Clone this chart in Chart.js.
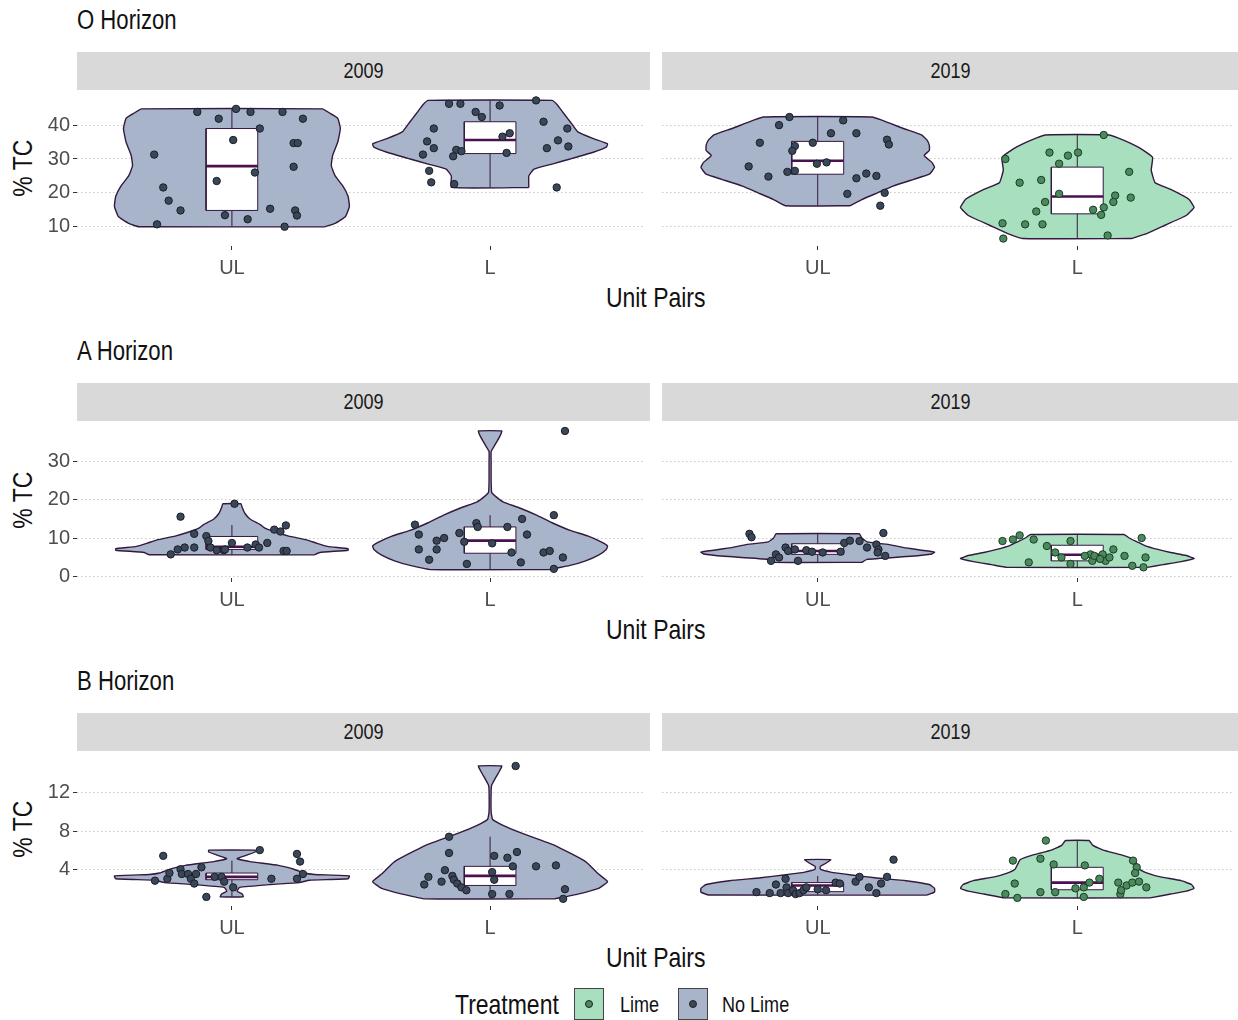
<!DOCTYPE html>
<html>
<head>
<meta charset="utf-8">
<script src="https://cdn.jsdelivr.net/npm/chart.js@4.4.1/dist/chart.umd.min.js"></script>
<style>
  body { margin: 0; background: #fff; }
  #page { position: relative; width: 1238px; height: 1020px; overflow: hidden; background: #fff;
          font-family: "Liberation Sans", Arial, sans-serif; color: #111; }
  .abs { position: absolute; white-space: nowrap; }
  .abs > span.n { display: inline-block; transform: scaleX(0.82); transform-origin: left center; }
  .c > span.n { transform-origin: center center; }
  .rowTitle { font-size: 27px; line-height: 30px; left: 77px; }
  .strip { background: #d9d9d9; height: 38px; display: flex; align-items: center; justify-content: center;
           font-size: 22px; color: #1a1a1a; }
  .xTitle { font-size: 28px; line-height: 30px; width: 300px; left: 506px; text-align: center; }
  .yTitle { font-size: 28px; line-height: 30px; width: 120px; text-align: center; transform: rotate(-90deg); }
  .legTitle { font-size: 28px; line-height: 30px; }
  .legText { font-size: 22px; line-height: 24px; }
  .key { width: 30px; height: 32px; border: 1px solid #444; box-sizing: border-box; display: flex;
         align-items: center; justify-content: center; }
  .dot { width: 6px; height: 6px; border-radius: 50%; border: 1px solid #222; }
  canvas { position: absolute; }
</style>
</head>
<body>
<div id="page"></div>
<script>
// ---- labels ----
const horizons = ['O Horizon', 'A Horizon', 'B Horizon'];
const years = ['2009', '2019'];
const categories = ['UL', 'L'];
const treatment2009 = ['No Lime', 'No Lime'];
const treatment2019 = ['No Lime', 'Lime'];
const treatments = ['Lime', 'No Lime'];

// ---- y axes (% TC) ----
const yTicksO = [10, 20, 30, 40];
const yTicksA = [0, 10, 20, 30];
const yTicksB = [4, 8, 12];
const yLimitsO = [4.3, 48.9];
const yLimitsA = [-0.5, 39.4];
const yLimitsB = [0.15, 15.85];

// ---- O horizon, 2009 ----
const violinO09UL_y = [10, 11, 13, 16, 19, 22, 25, 28, 31, 35, 39, 42, 43.5, 44.8];
const violinO09UL_w = [0.36, 0.40, 0.44, 0.455, 0.45, 0.43, 0.40, 0.385, 0.39, 0.41, 0.42, 0.41, 0.38, 0.35];
const boxO09UL = [10, 14.8, 27.9, 39.0, 44.8];
const ptsO09UL_dx = [-0.134, -0.051, 0.016, 0.072, 0.196, 0.275, 0.108, 0.005, 0.239, 0.255, -0.301, 0.239, 0.089, -0.059, -0.266, -0.245, -0.199, 0.148, 0.245, 0.252, -0.027, 0.061, -0.29, 0.204];
const ptsO09UL_y = [43.9, 41.9, 44.8, 43.9, 43.9, 41.9, 39.0, 35.6, 34.7, 34.7, 31.3, 27.7, 26.0, 23.5, 21.6, 17.7, 14.8, 15.3, 14.8, 13.3, 13.4, 12.2, 10.7, 10.0];

const violinO09L_y = [21.6, 25, 27, 28.5, 30, 32, 33.5, 34.5, 36, 38, 40, 42, 44, 46, 47.3];
const violinO09L_w = [0.15, 0.15, 0.17, 0.24, 0.31, 0.40, 0.45, 0.455, 0.40, 0.34, 0.32, 0.30, 0.28, 0.26, 0.24];
const boxO09L = [21.6, 31.6, 35.6, 41.0, 47.3];
const ptsO09L_dx = [-0.159, -0.115, 0.037, 0.178, -0.056, -0.032, 0.207, -0.218, 0.299, -0.244, 0.048, 0.076, 0.263, -0.218, -0.131, -0.111, 0.22, 0.303, -0.26, -0.143, 0.064, -0.236, -0.228, -0.139, 0.258];
const ptsO09L_y = [46.3, 46.3, 45.8, 47.3, 43.9, 42.4, 41.0, 39.0, 39.0, 35.2, 36.6, 37.6, 35.5, 33.2, 32.7, 32.3, 33.2, 33.7, 31.3, 30.8, 31.8, 26.5, 23.1, 22.6, 21.6];

// ---- O horizon, 2019 ----
const violinO19UL_y = [16.2, 18, 20, 22, 24, 25.5, 27.5, 29, 31, 32.5, 34, 35.7, 37.1, 39, 40.5, 42.4];
const violinO19UL_w = [0.125, 0.17, 0.23, 0.29, 0.37, 0.43, 0.45, 0.44, 0.41, 0.43, 0.43, 0.42, 0.40, 0.33, 0.28, 0.21];
const boxO19UL = [16.2, 25.5, 29.5, 35.2, 42.4];
const ptsO19UL_dx = [-0.109, -0.149, 0.098, 0.051, 0.149, 0.267, 0.274, -0.223, -0.088, -0.019, -0.098, -0.266, -0.19, -0.117, -0.088, -0.003, 0.034, 0.149, 0.187, 0.226, 0.114, 0.258, 0.241];
const ptsO19UL_y = [42.4, 40.0, 41.4, 37.6, 37.6, 35.7, 34.3, 34.8, 33.8, 34.8, 32.4, 27.8, 24.8, 26.2, 26.5, 28.6, 29.0, 24.3, 25.7, 25.0, 19.7, 20.0, 16.2];

const violinO19L_y = [6.5, 8, 10.5, 13.3, 15.7, 18.1, 21, 23, 26.7, 30.5, 33.3, 35.5, 37.1];
const violinO19L_w = [0.21, 0.27, 0.34, 0.42, 0.45, 0.43, 0.36, 0.30, 0.285, 0.29, 0.24, 0.18, 0.124];
const boxO19L = [6.5, 13.8, 18.9, 27.6, 37.1];
const ptsO19L_dx = [0.102, -0.107, -0.036, 0.003, -0.07, -0.277, 0.2, -0.222, -0.139, -0.07, -0.124, -0.158, 0.146, 0.206, 0.139, 0.102, 0.061, 0.092, -0.288, -0.201, -0.134, -0.285, 0.117];
const ptsO19L_y = [37.1, 31.9, 31.0, 31.9, 28.6, 30.0, 26.2, 23.0, 23.8, 19.7, 17.3, 14.5, 19.2, 18.6, 17.3, 15.7, 15.0, 13.5, 11.0, 10.7, 10.7, 6.5, 7.4];

// ---- A horizon, 2009 ----
const violinA09UL_y = [5.6, 6.2, 6.8, 7.2, 7.8, 8.6, 9.5, 10.5, 11.5, 12.5, 13.5, 15, 16.5, 18, 19];
const violinA09UL_w = [0.32, 0.34, 0.45, 0.45, 0.37, 0.33, 0.29, 0.22, 0.17, 0.13, 0.11, 0.07, 0.05, 0.04, 0.035];
const boxA09UL = [5.6, 7.0, 7.7, 10.4, 13.4];
const ptsA09UL_dx = [-0.199, 0.01, -0.237, -0.21, -0.183, -0.146, -0.146, -0.099, -0.091, -0.083, -0.059, -0.032, 0, 0.06, 0.092, 0.105, 0.137, 0.164, 0.188, 0.209, 0.2, 0.212, -0.027];
const ptsA09UL_y = [15.6, 19.0, 5.7, 7.0, 7.5, 7.5, 11.1, 10.5, 9.2, 7.5, 6.8, 6.8, 8.7, 7.5, 8.3, 7.5, 8.7, 12.2, 11.7, 13.3, 6.6, 6.6, 7.0];

const violinA09L_y = [1.7, 2.8, 4.0, 5.5, 7.0, 7.9, 9, 10.5, 12, 14, 16, 18, 19.5, 21, 22, 25, 30, 32.7, 34, 35.5, 37, 38.1];
const violinA09L_w = [0.23, 0.31, 0.37, 0.42, 0.45, 0.455, 0.43, 0.38, 0.31, 0.24, 0.18, 0.11, 0.05, 0.02, 0.006, 0.004, 0.004, 0.004, 0.015, 0.028, 0.04, 0.045];
const boxA09L = [1.7, 6.0, 9.3, 12.9, 16.0];
const ptsA09L_dx = [0.29, -0.291, -0.276, -0.276, -0.207, -0.236, -0.207, -0.178, -0.119, -0.1, -0.09, -0.053, -0.048, 0.008, 0.067, 0.083, 0.119, 0.124, 0.143, 0.207, 0.231, 0.247, 0.282, 0.247];
const ptsA09L_y = [38.1, 13.5, 10.9, 7.0, 7.0, 4.3, 9.3, 10.0, 11.3, 9.0, 3.2, 13.9, 12.9, 8.6, 12.9, 6.2, 3.6, 15.0, 10.9, 6.2, 6.6, 16.0, 4.9, 1.9];

// ---- A horizon, 2019 ----
const violinA19UL_y = [3.6, 4.4, 5.2, 5.8, 6.3, 6.8, 7.4, 8.2, 9.0, 10, 11.1];
const violinA19UL_w = [0.17, 0.19, 0.36, 0.44, 0.45, 0.40, 0.34, 0.28, 0.19, 0.17, 0.16];
const boxA19UL = [3.6, 5.7, 6.6, 8.5, 11.1];
const ptsA19UL_dx = [-0.263, -0.255, 0.253, -0.161, -0.149, -0.18, -0.124, -0.114, -0.088, -0.076, -0.044, -0.022, 0.019, 0.088, 0.102, 0.124, 0.161, 0.19, 0.226, 0.234, 0.26, 0.231];
const ptsA19UL_y = [11.1, 10.2, 11.3, 5.7, 4.9, 4.0, 7.5, 6.6, 7.0, 4.0, 6.8, 6.4, 6.2, 6.4, 8.7, 9.3, 9.2, 7.5, 8.3, 7.0, 5.3, 6.2];

const violinA19L_y = [2.3, 3.0, 3.8, 4.6, 5.4, 6.2, 7.0, 8.0, 9.0, 10, 10.9];
const violinA19L_w = [0.27, 0.33, 0.40, 0.45, 0.42, 0.36, 0.31, 0.26, 0.23, 0.20, 0.18];
const boxA19L = [2.3, 4.0, 5.6, 8.1, 10.9];
const ptsA19L_dx = [-0.288, -0.248, -0.222, -0.168, -0.117, -0.085, -0.061, -0.026, -0.026, -0.187, 0.051, 0.058, 0.066, 0.098, 0.109, 0.124, 0.139, 0.182, 0.212, 0.248, 0.263, 0.255, 0.029, 0.088];
const ptsA19L_y = [9.2, 9.6, 10.7, 9.6, 7.9, 6.2, 4.9, 9.2, 3.2, 3.6, 5.7, 4.0, 5.3, 5.7, 4.0, 4.9, 7.0, 5.3, 2.7, 10.0, 4.9, 2.3, 5.3, 4.5];

// ---- B horizon, 2009 ----
const violinB09UL_y = [1.1, 1.4, 1.7, 2.1, 2.4, 2.6, 2.85, 3.0, 3.3, 3.45, 3.6, 4.0, 4.4, 4.8, 5.1, 5.5, 5.8, 6.0];
const violinB09UL_w = [0.045, 0.04, 0.02, 0.03, 0.15, 0.26, 0.30, 0.45, 0.455, 0.32, 0.28, 0.24, 0.18, 0.07, 0.02, 0.06, 0.09, 0.09];
const boxB09UL = [1.1, 2.9, 3.2, 3.6, 4.9];
const ptsB09UL_dx = [-0.266, -0.298, -0.25, -0.242, -0.199, -0.194, -0.17, -0.159, -0.146, -0.139, -0.118, -0.099, -0.04, -0.03, 0.005, 0.108, 0.153, 0.252, 0.264, 0.275, 0.252, -0.067];
const ptsB09UL_y = [5.4, 2.8, 3.0, 3.6, 4.0, 3.5, 3.5, 3.0, 2.5, 3.5, 4.2, 1.1, 3.2, 2.7, 2.1, 6.0, 3.0, 5.6, 4.8, 3.5, 3.0, 3.2];

const violinB09L_y = [0.9, 1.4, 2.0, 2.7, 3.5, 4.8, 6.5, 7.8, 8.6, 9.2, 10, 12.3, 12.8, 13.5, 14.2, 14.8];
const violinB09L_w = [0.25, 0.34, 0.42, 0.455, 0.42, 0.37, 0.25, 0.12, 0.05, 0.01, 0.004, 0.004, 0.006, 0.02, 0.035, 0.045];
const boxB09L = [0.9, 2.3, 3.3, 4.3, 7.4];
const ptsB09L_dx = [0.099, -0.159, -0.159, 0.016, 0.067, 0.104, 0.088, 0.178, 0.255, -0.175, -0.239, -0.255, -0.188, -0.146, -0.14, -0.127, -0.111, -0.092, 0.008, 0.016, 0.008, 0.075, 0.29, 0.283];
const ptsB09L_y = [14.8, 7.4, 5.7, 5.4, 5.2, 5.8, 4.3, 4.3, 4.4, 3.9, 3.2, 2.4, 2.7, 3.3, 2.9, 2.5, 2.1, 1.8, 3.7, 2.9, 1.4, 1.4, 1.9, 0.9];

// ---- B horizon, 2019 ----
const violinB19UL_y = [1.3, 1.6, 2.0, 2.4, 2.8, 3.1, 3.4, 3.7, 4.0, 4.3, 4.6, 5.0];
const violinB19UL_w = [0.42, 0.45, 0.45, 0.43, 0.34, 0.22, 0.13, 0.05, 0.01, 0.01, 0.03, 0.05];
const boxB19UL = [1.3, 1.65, 2.3, 2.6, 3.3];
const ptsB19UL_dx = [-0.236, -0.185, -0.161, -0.143, -0.124, -0.12, -0.114, -0.095, -0.085, -0.07, -0.055, -0.044, 0, 0.032, 0.069, 0.085, 0.146, 0.161, 0.197, 0.226, 0.244, 0.267, 0.292];
const ptsB19UL_y = [1.6, 1.5, 2.4, 1.5, 3.0, 2.1, 1.5, 1.8, 1.4, 1.5, 1.8, 2.1, 1.9, 1.8, 2.6, 2.5, 2.7, 3.2, 2.1, 1.5, 2.5, 3.2, 5.0];

const violinB19L_y = [1.0, 1.4, 1.7, 2.0, 2.4, 2.8, 3.2, 3.6, 4.0, 4.5, 5.0, 5.5, 6.0, 6.5, 7.0];
const violinB19L_w = [0.28, 0.36, 0.42, 0.45, 0.44, 0.40, 0.32, 0.27, 0.24, 0.23, 0.22, 0.17, 0.10, 0.06, 0.045];
const boxB19L = [1.0, 1.85, 2.6, 4.2, 7.0];
const ptsB19L_dx = [-0.121, -0.248, -0.142, -0.091, 0.029, 0.215, 0.229, 0.223, -0.241, -0.142, -0.277, -0.231, -0.085, -0.007, 0.025, 0.025, 0.047, 0.085, 0.158, 0.19, 0.212, 0.238, 0.266, 0.166, 0.169];
const ptsB19L_y = [7.0, 4.9, 5.1, 4.5, 4.4, 4.9, 4.2, 3.6, 2.5, 1.6, 1.4, 1.0, 1.6, 2.0, 1.1, 2.1, 2.6, 3.0, 2.6, 2.3, 2.6, 2.7, 2.1, 1.4, 1.8];

// ---- styling ----
const FONT = '"Liberation Sans", Arial, sans-serif';
const fillColor = { 'No Lime': '#a8b4c9', 'Lime': '#a8dfbe' };
const pointColor = { 'No Lime': '#3b4758', 'Lime': '#4a8a5c' };
const pointEdge = { 'No Lime': '#1a1f28', 'Lime': '#1f3b27' };
const outline = '#34193f';
const medianColor = '#4a1050';
const tickText = '#4d4d4d';
const boxHalf = 0.1;

// page geometry
const rowTop = [0, 331, 661];
const panelTop = [90, 421, 751];
const panelBottom = [246, 578, 906];
const colLeft = [77, 662];
const colRight = [650, 1238];

function group(vy, vw, box, dx, py, treat) { return { vy, vw, box, dx, py, treat }; }

const rows = [
  { ticks: yTicksO, limits: yLimitsO, facets: [
    [group(violinO09UL_y, violinO09UL_w, boxO09UL, ptsO09UL_dx, ptsO09UL_y, treatment2009[0]),
     group(violinO09L_y, violinO09L_w, boxO09L, ptsO09L_dx, ptsO09L_y, treatment2009[1])],
    [group(violinO19UL_y, violinO19UL_w, boxO19UL, ptsO19UL_dx, ptsO19UL_y, treatment2019[0]),
     group(violinO19L_y, violinO19L_w, boxO19L, ptsO19L_dx, ptsO19L_y, treatment2019[1])]] },
  { ticks: yTicksA, limits: yLimitsA, facets: [
    [group(violinA09UL_y, violinA09UL_w, boxA09UL, ptsA09UL_dx, ptsA09UL_y, treatment2009[0]),
     group(violinA09L_y, violinA09L_w, boxA09L, ptsA09L_dx, ptsA09L_y, treatment2009[1])],
    [group(violinA19UL_y, violinA19UL_w, boxA19UL, ptsA19UL_dx, ptsA19UL_y, treatment2019[0]),
     group(violinA19L_y, violinA19L_w, boxA19L, ptsA19L_dx, ptsA19L_y, treatment2019[1])]] },
  { ticks: yTicksB, limits: yLimitsB, facets: [
    [group(violinB09UL_y, violinB09UL_w, boxB09UL, ptsB09UL_dx, ptsB09UL_y, treatment2009[0]),
     group(violinB09L_y, violinB09L_w, boxB09L, ptsB09L_dx, ptsB09L_y, treatment2009[1])],
    [group(violinB19UL_y, violinB19UL_w, boxB19UL, ptsB19UL_dx, ptsB19UL_y, treatment2019[0]),
     group(violinB19L_y, violinB19L_w, boxB19L, ptsB19L_dx, ptsB19L_y, treatment2019[1])]] }
];

const page = document.getElementById('page');
function addDiv(cls, text, style) {
  const d = document.createElement('div');
  d.className = 'abs ' + cls;
  if (text !== null) {
    const s = document.createElement('span');
    s.className = 'n';
    s.textContent = text;
    d.appendChild(s);
  }
  Object.assign(d.style, style);
  page.appendChild(d);
  return d;
}

// datasets for one violin + box + jittered points
function groupDatasets(g, c) {
  const out = [];
  const poly = [];
  g.vy.forEach((y, i) => poly.push({ x: c + g.vw[i], y }));
  for (let i = g.vy.length - 1; i >= 0; i--) poly.push({ x: c - g.vw[i], y: g.vy[i] });
  poly.push(poly[0]);
  out.push({ data: poly, showLine: true, fill: 'shape', backgroundColor: fillColor[g.treat],
             borderColor: outline, borderWidth: 1.4, pointRadius: 0, tension: 0.12, order: 4 });
  const [lo, q1, med, q3, hi] = g.box;
  out.push({ data: [{ x: c, y: lo }, { x: c, y: hi }], showLine: true, borderColor: outline,
             borderWidth: 1, pointRadius: 0, order: 3 });
  out.push({ data: [{ x: c - boxHalf, y: q1 }, { x: c + boxHalf, y: q1 }, { x: c + boxHalf, y: q3 },
                    { x: c - boxHalf, y: q3 }, { x: c - boxHalf, y: q1 }],
             showLine: true, fill: 'shape', backgroundColor: '#ffffff', borderColor: outline,
             borderWidth: 1, pointRadius: 0, tension: 0, order: 2 });
  out.push({ data: [{ x: c - boxHalf, y: med }, { x: c + boxHalf, y: med }], showLine: true,
             borderColor: medianColor, borderWidth: 2.6, pointRadius: 0, order: 1 });
  out.push({ data: g.py.map((y, i) => ({ x: c + g.dx[i], y })), showLine: false,
             pointRadius: 3.7, pointBackgroundColor: pointColor[g.treat], pointBorderColor: pointEdge[g.treat],
             pointBorderWidth: 1, order: 0 });
  return out;
}

const X_AXIS_H = 40;
rows.forEach((row, r) => {
  addDiv('rowTitle', horizons[r], { top: (rowTop[r] + 5) + 'px' });
  addDiv('xTitle c', 'Unit Pairs', { top: (panelBottom[r] + 37) + 'px' });
  addDiv('yTitle c', '% TC', { left: (23 - 60) + 'px', top: ((panelTop[r] + panelBottom[r]) / 2 - 15) + 'px' });
  row.facets.forEach((groups, f) => {
    addDiv('strip c', years[f], { left: colLeft[f] + 'px', top: (panelTop[r] - 38) + 'px',
                                  width: (colRight[f] - colLeft[f]) + 'px' });
    const yAxisW = f === 0 ? colLeft[0] : 12;
    const canvas = document.createElement('canvas');
    const cw = colRight[f] - colLeft[f] + yAxisW;
    const ch = panelBottom[r] - panelTop[r] + X_AXIS_H;
    canvas.width = cw; canvas.height = ch;
    canvas.style.left = (colLeft[f] - yAxisW) + 'px';
    canvas.style.top = panelTop[r] + 'px';
    canvas.style.width = cw + 'px'; canvas.style.height = ch + 'px';
    page.appendChild(canvas);
    let datasets = [];
    groups.forEach((g, gi) => { datasets = datasets.concat(groupDatasets(g, gi + 1)); });
    new Chart(canvas, {
      type: 'scatter',
      data: { datasets },
      options: {
        responsive: false, animation: false, events: [],
        layout: { padding: 0 },
        plugins: { legend: { display: false }, tooltip: { enabled: false } },
        scales: {
          x: {
            type: 'linear', min: 0.4, max: 2.6,
            afterBuildTicks: s => { s.ticks = categories.map((_, i) => ({ value: i + 1 })); },
            afterFit: s => { s.height = X_AXIS_H; s.paddingLeft = 0; s.paddingRight = 0; },
            ticks: { callback: v => categories[v - 1], color: tickText, autoSkip: false, maxRotation: 0,
                     padding: 6, font: { family: FONT, size: 20 } },
            grid: { drawOnChartArea: false, drawTicks: true, tickLength: 4, tickColor: '#333', color: '#333' },
            border: { display: false }
          },
          y: {
            type: 'linear', min: row.limits[0], max: row.limits[1],
            afterBuildTicks: s => { s.ticks = row.ticks.map(v => ({ value: v })); },
            afterFit: s => { s.width = yAxisW; s.paddingTop = 0; s.paddingBottom = 0; },
            ticks: { display: f === 0, color: tickText, padding: 3, font: { family: FONT, size: 20 } },
            grid: { color: '#c9c9c9', lineWidth: 1, drawTicks: f === 0, tickLength: 4,
                    tickColor: '#333', tickBorderDash: [] },
            border: { display: false, dash: [1.5, 2.5] }
          }
        }
      }
    });
  });
});

// legend
addDiv('legTitle', 'Treatment', { left: '455px', top: '990px' });
const legendX = [574, 678];
const legendTextX = [620, 722];
treatments.forEach((t, i) => {
  const k = addDiv('key', null, { left: legendX[i] + 'px', top: '988px', background: fillColor[t] });
  const dot = document.createElement('div');
  dot.className = 'dot';
  dot.style.background = pointColor[t];
  k.appendChild(dot);
  addDiv('legText', t, { left: legendTextX[i] + 'px', top: '993px' });
});
</script>
</body>
</html>
